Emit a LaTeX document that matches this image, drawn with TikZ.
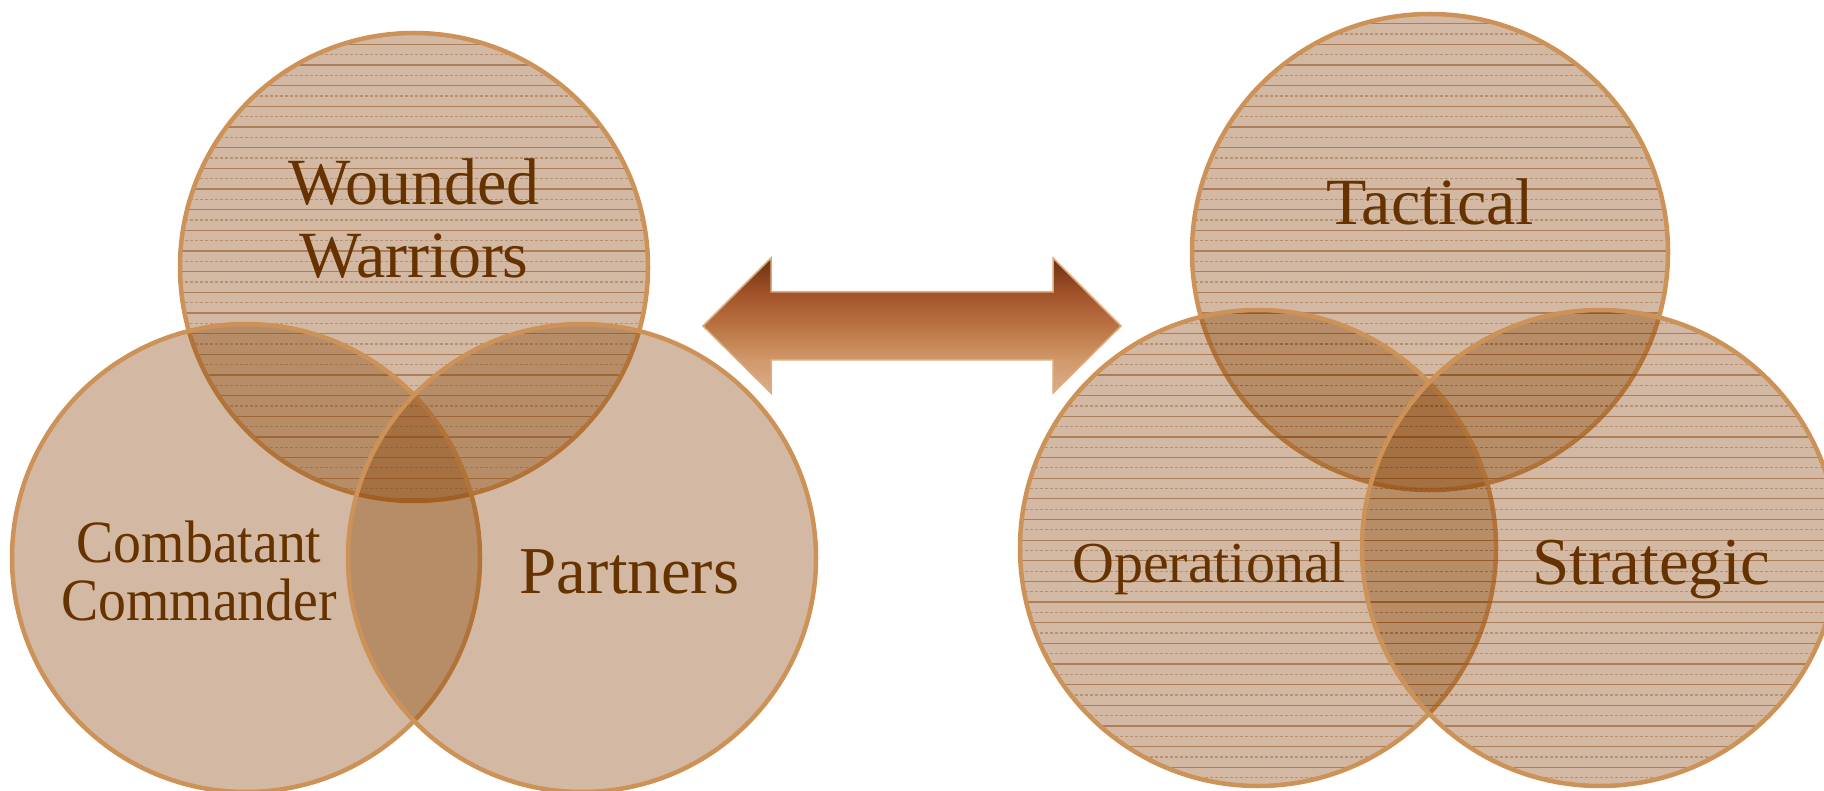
\documentclass[tikz,border=0pt]{standalone}
\usepackage{fontspec}
\setmainfont{Liberation Serif}
\definecolor{txt}{RGB}{102,51,0}
\definecolor{vfill}{RGB}{134,62,0}
\definecolor{vedge}{RGB}{204,146,88}
\definecolor{hatch}{RGB}{140,80,30}
\definecolor{arrowedge}{RGB}{222,170,120}
\pgfdeclareverticalshading{arrowshade}{100bp}{rgb(0bp)=(0.86,0.68,0.55); rgb(25bp)=(0.86,0.68,0.55); rgb(37bp)=(0.82,0.60,0.42); rgb(50bp)=(0.73,0.45,0.26); rgb(62bp)=(0.63,0.32,0.16); rgb(75bp)=(0.42,0.20,0.07); rgb(100bp)=(0.42,0.20,0.07)}
\newcommand\myhatch[2]{%
  \begin{scope}
    \clip (#1) circle[radius=#2];
    \foreach \k in {0,...,77}{%
      \ifodd\k
        \draw[hatch, draw opacity=0.38, line width=1.3pt, dash pattern=on 3pt off 2pt] (0,{3+\k*10.33}) -- (1824,{3+\k*10.33});
      \else
        \draw[hatch, draw opacity=0.55, line width=1.3pt] (0,{3+\k*10.33}) -- (1824,{3+\k*10.33});
      \fi}
  \end{scope}}
\begin{document}
\begin{tikzpicture}[x=1pt,y=-1pt,
  vennfill/.style={fill=vfill, fill opacity=0.36},
  vennedge/.style={draw=vedge, line width=4.5pt},
  lbl/.style={text=txt, inner sep=0pt, align=center}]
\useasboundingbox (0,0) rectangle (1824,791);
% centres
\coordinate (ww) at (414,267);
\coordinate (cc) at (246,558);
\coordinate (pa) at (582,558);
\coordinate (ta) at (1430,252);
\coordinate (op) at (1258,548);
\coordinate (st) at (1600,548);
% left diagram
\fill[vennfill] (ww) circle[radius=234];
\myhatch{ww}{234}
\draw[vennedge] (ww) circle[radius=234];
\fill[vennfill] (cc) circle[radius=234];
\draw[vennedge] (cc) circle[radius=234];
\fill[vennfill] (pa) circle[radius=234];
\draw[vennedge] (pa) circle[radius=234];
% right diagram
\fill[vennfill] (ta) circle[radius=238];
\myhatch{ta}{238}
\draw[vennedge] (ta) circle[radius=238];
\fill[vennfill] (op) circle[radius=238];
\myhatch{op}{238}
\draw[vennedge] (op) circle[radius=238];
\fill[vennfill] (st) circle[radius=238];
\myhatch{st}{238}
\draw[vennedge] (st) circle[radius=238];
% arrow
\draw[shading=arrowshade, draw=arrowedge, line width=1.5pt, line join=miter]
  (703,326) -- (771,258) -- (771,292) -- (1053,292) -- (1053,258) -- (1121,326)
  -- (1053,393) -- (1053,360) -- (771,360) -- (771,393) -- cycle;
% labels
\node[lbl, font=\fontsize{66}{73}\selectfont] (tww) at (414,219) {Wounded\\Warriors};
\node[lbl, font=\fontsize{60}{58}\selectfont, xscale=0.93] (tcc) at (199,570.5) {Combatant\\Commander};
\node[lbl, font=\fontsize{67}{70}\selectfont, anchor=base] (tpa) at (629.5,593) {Partners};
\node[lbl, font=\fontsize{66}{70}\selectfont, anchor=base] (tta) at (1430,225) {Tactical};
\node[lbl, font=\fontsize{58}{60}\selectfont, anchor=base] (top) at (1209,582) {Operational};
\node[lbl, font=\fontsize{67}{70}\selectfont, anchor=base] (tst) at (1651.5,584) {Strategic};
\end{tikzpicture}
\end{document}
